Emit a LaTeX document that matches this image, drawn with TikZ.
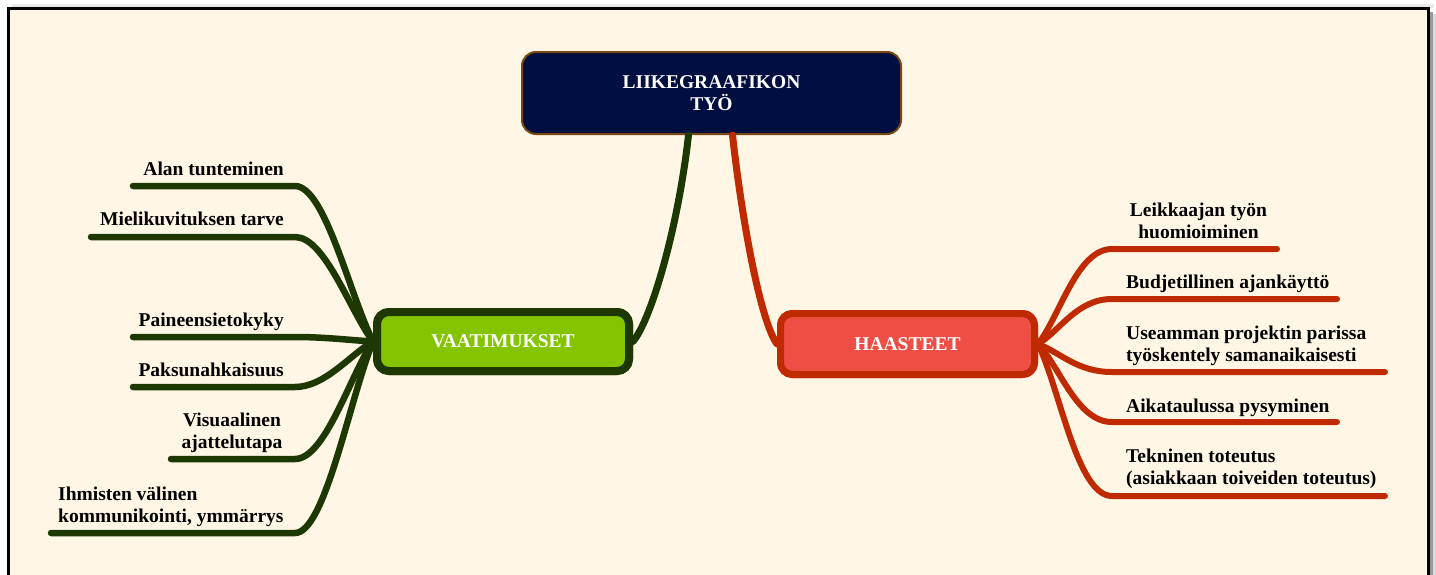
\documentclass[tikz,border=0pt]{standalone}
\usepackage{fontspec}
\setmainfont{Liberation Serif}
\usetikzlibrary{calc}

\definecolor{paper}{RGB}{255,246,229}
\definecolor{navy}{RGB}{0,15,64}
\definecolor{rootrim}{RGB}{122,72,18}
\definecolor{leaf}{RGB}{133,196,0}
\definecolor{moss}{RGB}{30,56,4}
\definecolor{coral}{RGB}{238,78,68}
\definecolor{rust}{RGB}{192,42,0}

\begin{document}
\begin{tikzpicture}[x=1pt,y=-1pt,
  font=\fontsize{19.5}{22}\selectfont\bfseries,
  rootbox/.style={draw=rootrim, line width=2pt, fill=navy, rounded corners=14pt,
    text=white, minimum width=379pt, minimum height=82pt, align=center, inner sep=0pt},
  needbox/.style={draw=moss, line width=8pt, fill=leaf, rounded corners=12pt,
    text=white, minimum width=252pt, minimum height=59pt, inner sep=0pt},
  hardbox/.style={draw=rust, line width=7pt, fill=coral, rounded corners=12pt,
    text=white, minimum width=254pt, minimum height=61pt, inner sep=0pt},
  lbl/.style={inner sep=0pt, text=black},
  twigL/.style={draw=moss, line width=6.5pt, line cap=round, line join=round},
  twigR/.style={draw=rust, line width=6pt, line cap=round, line join=round},
]
\useasboundingbox (0,0) rectangle (1436,574);

% page frame with its drop shadow
\fill[black!15] (1432,14) rectangle (1436,600);
\fill[black!40] (1430,12) rectangle (1433,600);
\fill[black!8] (12,4) rectangle (1434,8);
\fill[paper] (8,8) rectangle (1428,600);
\draw[line width=3pt, black] (8,8) rectangle (1428,600);

% central and main topics
\node[rootbox] (root) at (711.5,93) {LIIKEGRAAFIKON\\TYÖ};
\node[needbox] (v) at (503,341.5) {VAATIMUKSET};
\node[hardbox] (h) at (907.5,344) {HAASTEET};

% trunks from the central topic
\draw[draw=moss, line width=7pt, line cap=round]
  ([xshift=-23pt]root.south) .. controls +(-10,90) and +(19,-23) .. (v.east);
\draw[draw=rust, line width=7pt, line cap=round]
  ([xshift=21pt]root.south) .. controls +(10,90) and +(-16,-22) .. (h.west);

% left sub-topic lines: bend point and free end
\coordinate (bl1) at (295,186); \coordinate (el1) at (133,186);
\coordinate (bl2) at (295,237); \coordinate (el2) at (91,237);
\coordinate (bl3) at (295,337); \coordinate (el3) at (133,337);
\coordinate (bl4) at (295,387); \coordinate (el4) at (133,387);
\coordinate (bl5) at (295,459); \coordinate (el5) at (171,459);
\coordinate (bl6) at (295,533); \coordinate (el6) at (51,533);
\foreach \i in {1,...,6}{
  \draw[twigL] (v.west) .. controls ($(v.west)!0.3!(bl\i)$) and +(30,0) .. (bl\i) -- (el\i);
}

% right sub-topic lines
\coordinate (br1) at (1112,249); \coordinate (er1) at (1277,249);
\coordinate (br2) at (1112,299); \coordinate (er2) at (1337,299);
\coordinate (br3) at (1112,372); \coordinate (er3) at (1385,372);
\coordinate (br4) at (1112,422); \coordinate (er4) at (1337,422);
\coordinate (br5) at (1112,496); \coordinate (er5) at (1385,496);
\foreach \i in {1,...,5}{
  \draw[twigR] (h.east) .. controls ($(h.east)!0.3!(br\i)$) and +(-35,0) .. (br\i) -- (er\i);
}

% main topics drawn again above the line ends
\node[needbox] at (v) {VAATIMUKSET};
\node[hardbox] at (h) {HAASTEET};

% left labels (multi-line labels sit on the baseline of their last line)
\node[lbl, anchor=base east] (n1) at (284,175) {Alan tunteminen};
\node[lbl, anchor=base east] (n2) at (284,225) {Mielikuvituksen tarve};
\node[lbl, anchor=base east] (n3) at (284,326) {Paineensietokyky};
\node[lbl, anchor=base east] (n4) at (284,376) {Paksunahkaisuus};
\node[lbl, anchor=base, align=center] (n5) at (232,448) {Visuaalinen\\ajattelutapa};
\node[lbl, anchor=base west, align=left] (n6) at (58,522) {Ihmisten välinen\\kommunikointi, ymmärrys};

% right labels
\node[lbl, anchor=base, align=center] (m1) at (1198.5,238) {Leikkaajan työn\\huomioiminen};
\node[lbl, anchor=base west] (m2) at (1126,288) {Budjetillinen ajankäyttö};
\node[lbl, anchor=base west, align=left] (m3) at (1126,361) {Useamman projektin parissa\\työskentely samanaikaisesti};
\node[lbl, anchor=base west] (m4) at (1126,412) {Aikataulussa pysyminen};
\node[lbl, anchor=base west, align=left] (m5) at (1126,484) {Tekninen toteutus\\(asiakkaan toiveiden toteutus)};
\end{tikzpicture}
\end{document}
